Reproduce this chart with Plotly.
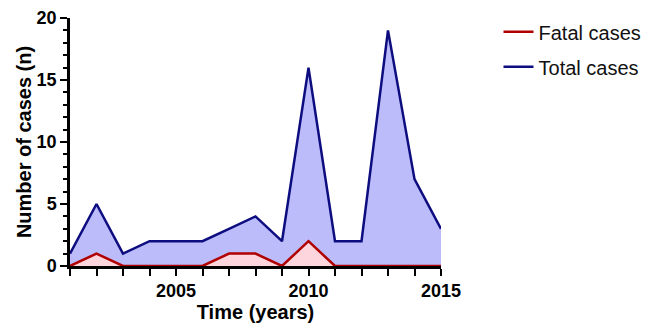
import plotly.graph_objects as go

years = [2001, 2002, 2003, 2004, 2005, 2006, 2007, 2008, 2009, 2010, 2011, 2012, 2013, 2014, 2015]
total_cases = [1, 5, 1, 2, 2, 2, 3, 4, 2, 16, 2, 2, 19, 7, 3]
fatal_cases = [0, 1, 0, 0, 0, 0, 1, 1, 0, 2, 0, 0, 0, 0, 0]
x_tick_labels = [2005, 2010, 2015]
y_tick_labels = [0, 5, 10, 15, 20]

FONT = "Liberation Sans, Arial, sans-serif"
TOTAL_LINE = "#0d0d80"
FATAL_LINE = "#b00000"

fig = go.Figure()
fig.add_trace(go.Scatter(
    x=years, y=total_cases, name="Total cases", mode="lines",
    line=dict(color=TOTAL_LINE, width=2.5), fill="tozeroy",
    fillcolor="rgba(188,188,250,1)", showlegend=False, cliponaxis=False,
))
fig.add_trace(go.Scatter(
    x=years, y=fatal_cases, name="Fatal cases", mode="lines",
    line=dict(color=FATAL_LINE, width=2.5), fill="tozeroy",
    fillcolor="rgba(252,214,220,1)", showlegend=False, cliponaxis=False,
))
# legend-only entries (line samples without fill)
fig.add_trace(go.Scatter(x=[None], y=[None], name="Fatal cases", mode="lines",
                         line=dict(color=FATAL_LINE, width=2.5), legendgroup="a"))
fig.add_trace(go.Scatter(x=[None], y=[None], name="Total cases", mode="lines",
                         line=dict(color=TOTAL_LINE, width=2.5), legendgroup="b"))

# margins compensate for the 8px default page body margin
fig.update_layout(
    width=651, height=327,
    margin=dict(l=62, r=218, t=10, b=69, autoexpand=False),
    plot_bgcolor="white", paper_bgcolor="white",
    font=dict(family=FONT, color="black"),
    showlegend=True,
    legend=dict(
        x=1.155, y=1.023, xanchor="left", yanchor="top",
        font=dict(size=20, family=FONT, color="#111"),
        traceorder="grouped", tracegroupgap=6,
        itemwidth=30, bgcolor="rgba(0,0,0,0)",
    ),
    xaxis=dict(
        range=[2001, 2015], tickvals=x_tick_labels,
        ticktext=[str(v) for v in x_tick_labels],
        ticks="outside", ticklen=7, tickwidth=2, tickcolor="black",
        minor=dict(dtick=1, tick0=2001, ticks="outside", ticklen=7, tickwidth=2, tickcolor="black"),
        showline=True, linecolor="black", linewidth=2.5,
        showgrid=False, zeroline=False, automargin=False,
        tickfont=dict(size=18, family=FONT, color="black", weight="bold"),
        title=dict(text="<b>Time (years)</b>", font=dict(size=20, family=FONT, color="black"), standoff=4),
    ),
    yaxis=dict(
        range=[0, 20], tickvals=y_tick_labels,
        ticks="outside", ticklen=7, tickwidth=2, tickcolor="black",
        minor=dict(dtick=1, tick0=0, ticks="outside", ticklen=4, tickwidth=2, tickcolor="black"),
        showline=True, linecolor="black", linewidth=2.5,
        showgrid=False, zeroline=False, automargin=False,
        tickfont=dict(size=18, family=FONT, color="black", weight="bold"),
        title=dict(text="<b>Number of cases (n)</b>", font=dict(size=20, family=FONT, color="black"), standoff=0),
    ),
)

fig.write_html("out.html")
